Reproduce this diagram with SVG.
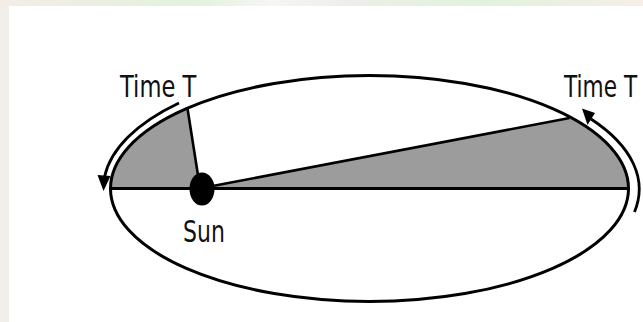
<svg xmlns="http://www.w3.org/2000/svg" width="643" height="322" viewBox="0 0 643 322">
  <defs>
    <linearGradient id="topband" x1="0" y1="0" x2="1" y2="0">
      <stop offset="0" stop-color="#f4ece8"/>
      <stop offset="0.3" stop-color="#e2f2dc"/>
      <stop offset="0.42" stop-color="#f6f6f4"/>
      <stop offset="0.55" stop-color="#ecefe8"/>
      <stop offset="0.75" stop-color="#e1f2dc"/>
      <stop offset="1" stop-color="#f6eee9"/>
    </linearGradient>
    <style>
      .lbl { font-family: "DejaVu Sans", "Liberation Sans", sans-serif; font-size: 31px; fill: #111; }
      .shade { fill: #9c9c9c; stroke: none; }
      .edge { fill: none; stroke: #000; stroke-width: 3; }
      .ray { fill: none; stroke: #000; stroke-width: 2.6; }
      .arc { fill: none; stroke: #000; stroke-width: 2.8; }
      .head { fill: #000; }
    </style>
  </defs>

  <!-- background frame -->
  <rect x="0" y="0" width="643" height="322" fill="#f2eee9"/>
  <rect x="0" y="0" width="643" height="7" fill="url(#topband)"/>
  <rect x="9" y="6" width="634" height="316" fill="#ffffff"/>

  <!-- shaded equal areas -->
  <g id="area-left">
    <path class="shade" d="M 187.5,108.3 A 259 113 0 0 0 110.5,188.5 L 201,188.5 Z"/>
  </g>
  <g id="area-right">
    <path class="shade" d="M 201,188.5 L 569,117.6 A 259 113 0 0 1 628.5,188.5 Z"/>
  </g>

  <!-- orbit -->
  <g id="orbit">
    <ellipse class="edge" cx="369.5" cy="188.5" rx="259" ry="113"/>
  </g>

  <!-- connectors -->
  <g id="connectors">
    <line class="edge" x1="110.5" y1="188.5" x2="628.5" y2="188.5"/>
    <line class="ray" x1="187.5" y1="108.5" x2="200" y2="188"/>
    <line class="ray" x1="202" y1="188" x2="569.5" y2="118"/>
    <path class="arc" d="M 179,103 A 266 123 0 0 0 104.5,177"/>
    <polygon class="head" points="97.5,175 110.5,176 103.5,191"/>
    <path class="arc" d="M 591,119 A 270 123 0 0 1 634.5,212"/>
    <polygon class="head" points="582,108.5 595,113 587.5,125"/>
  </g>

  <!-- sun -->
  <g id="sun">
    <ellipse cx="202" cy="189" rx="12.5" ry="16.5" fill="#000"/>
    <text class="lbl" transform="translate(183,241.5) scale(0.71,1)">Sun</text>
  </g>

  <!-- labels -->
  <g id="label-time-left">
    <text class="lbl" transform="translate(120,96.5) scale(0.73,1)">Time T</text>
  </g>
  <g id="label-time-right">
    <text class="lbl" transform="translate(564,96.5) scale(0.70,1)">Time T</text>
  </g>
</svg>
